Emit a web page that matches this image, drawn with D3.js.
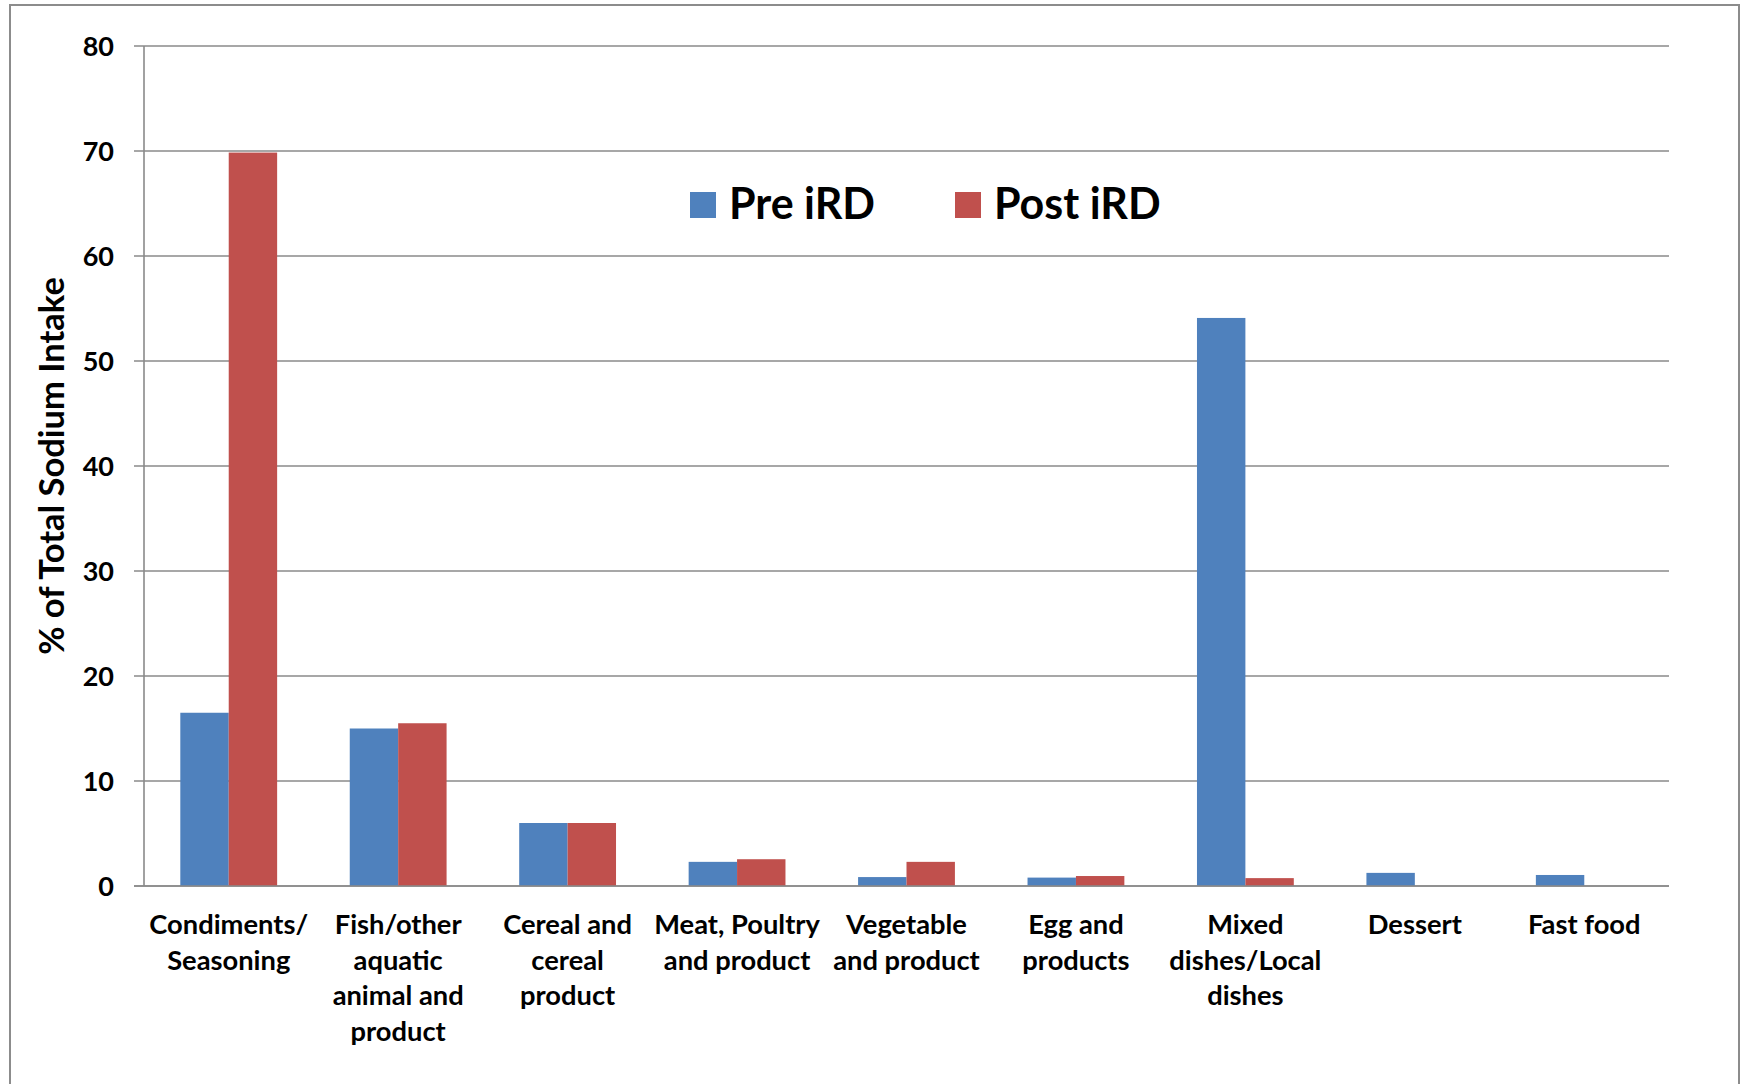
<!DOCTYPE html>
<html>
<head>
<meta charset="utf-8">
<script src="https://cdn.jsdelivr.net/npm/d3@7"></script>
<style>
  html, body { margin: 0; padding: 0; background: #fff; }
  svg { display: block; }
  text { font-family: Lato, "Open Sans", sans-serif; font-weight: 700; fill: #000; }
</style>
</head>
<body>
<svg id="chart" width="1747" height="1084"></svg>
<script>
const categories = [
  "Condiments/\nSeasoning",
  "Fish/other\naquatic\nanimal and\nproduct",
  "Cereal and\ncereal\nproduct",
  "Meat, Poultry\nand product",
  "Vegetable\nand product",
  "Egg and\nproducts",
  "Mixed\ndishes/Local\ndishes",
  "Dessert",
  "Fast food"
];
const seriesNames = ["Pre iRD", "Post iRD"];
const preValues  = [16.5, 15.0, 6.0, 2.3, 0.85, 0.8, 54.1, 1.25, 1.05];
const postValues = [69.85, 15.5, 6.0, 2.55, 2.3, 0.95, 0.75, 0, 0];
const yTicks = [0, 10, 20, 30, 40, 50, 60, 70, 80];
const yTitle = "% of Total Sodium Intake";
const colors = ["#4F81BD", "#C0504D"];

const svg = d3.select("#chart");
const plot = { left: 144, right: 1669, top: 46, bottom: 886 };

// outer border
svg.append("rect")
  .attr("x", 10).attr("y", 5)
  .attr("width", 1729).attr("height", 1100)
  .attr("fill", "none").attr("stroke", "#8c8c8c").attr("stroke-width", 2);

const y = d3.scaleLinear().domain([0, 80]).range([plot.bottom, plot.top]);
const x0 = d3.scaleBand().domain(d3.range(categories.length))
  .range([plot.left, plot.right]).padding(0);
const step = x0.bandwidth();
const barW = step / 3.5;
const x1 = d3.scaleBand().domain(d3.range(seriesNames.length))
  .range([(step - 2 * barW) / 2, (step + 2 * barW) / 2]).padding(0);

// gridlines
svg.append("g").selectAll("line").data(yTicks).join("line")
  .attr("x1", plot.left - 10).attr("x2", plot.right)
  .attr("y1", d => y(d)).attr("y2", d => y(d))
  .attr("stroke", "#8a8a8a").attr("stroke-width", 1.6);

// y axis line
svg.append("line")
  .attr("x1", plot.left).attr("x2", plot.left)
  .attr("y1", plot.top).attr("y2", plot.bottom)
  .attr("stroke", "#8a8a8a").attr("stroke-width", 1.6);

// y tick labels via axis
const yAxis = d3.axisLeft(y).tickValues(yTicks).tickSize(0).tickPadding(0);
const gy = svg.append("g").attr("transform", `translate(${plot.left - 30},0)`).call(yAxis);
gy.select(".domain").remove();
gy.selectAll("text")
  .style("font-family", "Lato, 'Open Sans', sans-serif")
  .style("font-weight", 700).style("font-size", "27px").attr("fill", "#000")
  .attr("dy", "0.36em");

// bars
const data = [preValues, postValues];
const groups = svg.append("g").selectAll("g").data(categories.map((c, i) => i)).join("g")
  .attr("transform", i => `translate(${x0(i)},0)`);
groups.selectAll("rect")
  .data(i => data.map((vals, s) => ({ s, v: vals[i] })))
  .join("rect")
  .attr("x", d => x1(d.s))
  .attr("width", x1.bandwidth())
  .attr("y", d => y(d.v))
  .attr("height", d => y(0) - y(d.v))
  .attr("fill", d => colors[d.s]);

// redraw baseline on top
svg.append("line")
  .attr("x1", plot.left - 10).attr("x2", plot.right)
  .attr("y1", y(0)).attr("y2", y(0))
  .attr("stroke", "#8a8a8a").attr("stroke-width", 1.6);

// category labels
const lineH = 35.7;
const labels = svg.append("g").selectAll("text").data(categories).join("text")
  .attr("text-anchor", "middle")
  .attr("x", (d, i) => x0(i) + step / 2)
  .attr("y", 934)
  .style("font-size", "27.3px");
labels.each(function(d) {
  const t = d3.select(this);
  d.split("\n").forEach((ln, k) => {
    t.append("tspan").attr("x", t.attr("x")).attr("dy", k === 0 ? 0 : lineH).text(ln);
  });
});

// y title
svg.append("text")
  .attr("transform", `translate(64,466) rotate(-90)`)
  .attr("text-anchor", "middle")
  .style("font-size", "34.5px")
  .text(yTitle);

// legend
const legendItems = [
  { name: seriesNames[0], color: colors[0], x: 690 },
  { name: seriesNames[1], color: colors[1], x: 955 }
];
const lg = svg.append("g").selectAll("g").data(legendItems).join("g")
  .attr("transform", d => `translate(${d.x},192)`);
lg.append("rect").attr("width", 26).attr("height", 26).attr("fill", d => d.color);
lg.append("text").attr("x", 39).attr("y", 27)
  .style("font-size", "43px").text(d => d.name);
</script>
</body>
</html>
